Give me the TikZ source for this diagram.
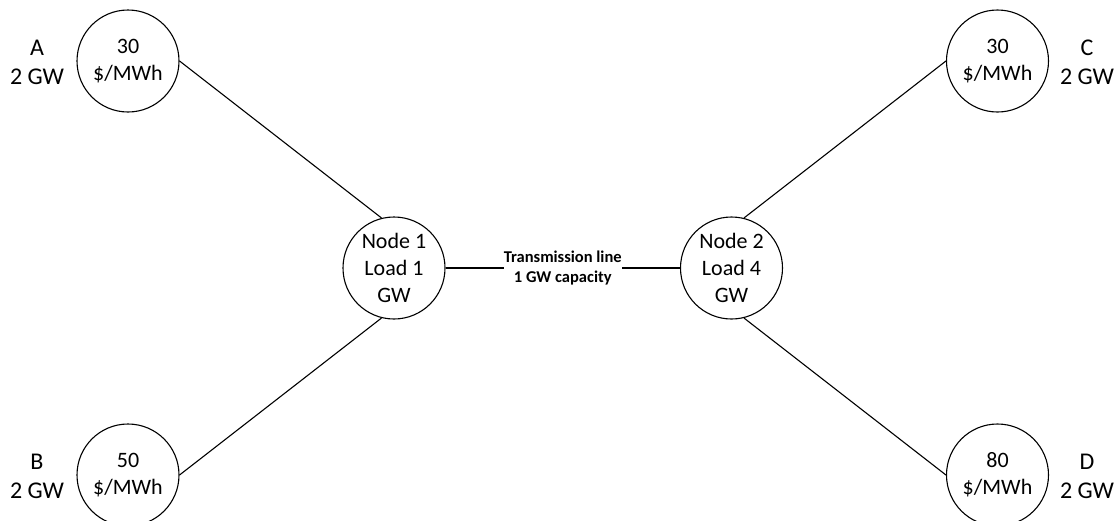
\documentclass[tikz,border=0pt]{standalone}
\usepackage{fontspec}
\setmainfont{Carlito}
\begin{document}
\begin{tikzpicture}[x=1pt,y=-1pt,
  gen/.style={circle,draw,line width=1.1pt,minimum size=102pt,inner sep=0pt,
    align=center,font=\fontsize{22}{26.8}\selectfont},
  lbl/.style={align=center,inner sep=0pt,font=\fontsize{24}{29}\selectfont},
  wire/.style={line width=1.1pt},
  tlabel/.style={fill=white,inner sep=0pt,align=center,
    font=\bfseries\fontsize{16.5}{20.5}\selectfont}]
\useasboundingbox (0,0) rectangle (1120,520);
% generators
\node[gen] (a) at (128,61) {30\\\$/MWh};
\node[gen] (b) at (128,475) {50\\\$/MWh};
\node[gen] (c) at (997.5,61) {30\\\$/MWh};
\node[gen] (d) at (997.5,475) {80\\\$/MWh};
% buses
\node[gen] (n1) at (394,268) {Node 1\\Load 1\\GW};
\node[gen] (n2) at (731.5,268) {Node 2\\Load 4\\GW};
% labels
\node[lbl] (la) at (37,62.5) {A\\2 GW};
\node[lbl] (lb) at (37,476.5) {B\\2 GW};
\node[lbl] (lc) at (1087,62.5) {C\\2 GW};
\node[lbl] (ld) at (1087,476.5) {D\\2 GW};
% connectors
\draw[wire] (a.east) -- (n1.104);
\draw[wire] (b.east) -- (n1.-104);
\draw[wire] (c.west) -- (n2.76);
\draw[wire] (d.west) -- (n2.-76);
\draw[wire] (n1.east) -- node[tlabel] (tl) {Transmission line\\1 GW capacity} (n2.west);
\end{tikzpicture}
\end{document}
